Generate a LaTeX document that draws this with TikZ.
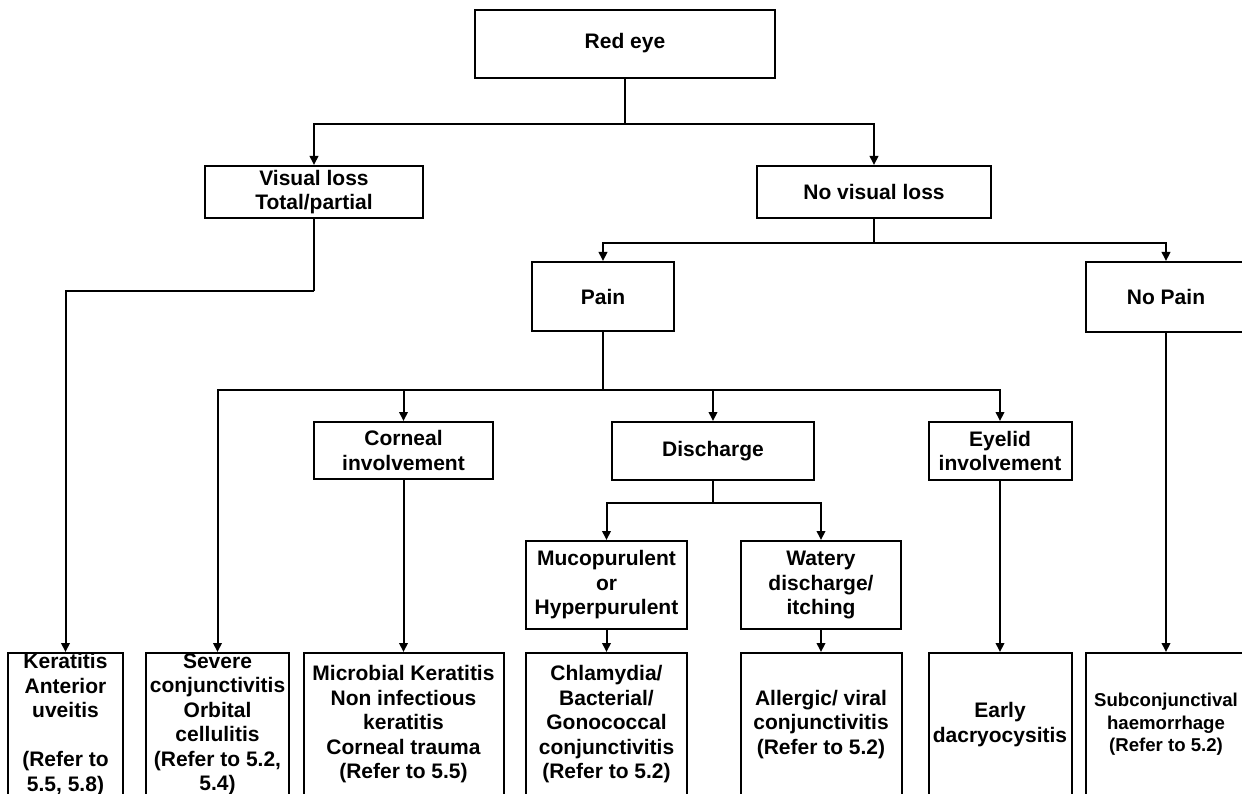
\documentclass[tikz,border=0pt]{standalone}
\usepackage{fontspec}
\setmainfont{Liberation Sans}
\usetikzlibrary{arrows.meta}

\tikzset{
  box/.style={draw, line width=2pt, rectangle, align=center, inner sep=0pt,
    font=\bfseries\fontsize{21}{24.5}\selectfont},
  smallbox/.style={box, font=\bfseries\fontsize{18.6}{22.5}\selectfont},
  link/.style={line width=2pt},
  arr/.style={link, -{Triangle[length=9pt,width=8.5pt]}},
}

\begin{document}
\begin{tikzpicture}[x=1pt, y=-1pt]
\useasboundingbox[fill=white] (0,0) rectangle (1242,794);

% top levels
\node[box, minimum width=300, minimum height=68] (red) at (625,44) {\raisebox{7pt}{Red eye}};
\node[box, minimum width=218, minimum height=52] (vis) at (314,192) {Visual loss\\Total/partial};
\node[box, minimum width=234, minimum height=52] (novis) at (874,192) {No visual loss};
\node[box, minimum width=142, minimum height=69] (pain) at (603,296.5) {Pain};
\node[box, minimum width=160, minimum height=70] (nopain) at (1166,297) {No Pain};

% third level
\node[box, minimum width=179, minimum height=57] (corn) at (403.5,450.5) {Corneal\\involvement};
\node[box, minimum width=202, minimum height=58] (dis) at (713,451) {Discharge};
\node[box, minimum width=143, minimum height=58] (eye) at (1000,451) {Eyelid\\involvement};
\node[box, minimum width=161, minimum height=88] (muc) at (606.5,585) {Mucopurulent\\or\\Hyperpurulent};
\node[box, minimum width=160, minimum height=88] (wat) at (821,585) {Watery\\discharge/\\itching};

% diagnoses
\node[box, minimum width=115, minimum height=143] (ker) at (65.5,724.5)
  {Keratitis\\Anterior\\uveitis\\[24.5pt](Refer to\\5.5, 5.8)};
\node[box, minimum width=143, minimum height=143] (sev) at (217.5,724.5)
  {Severe\\conjunctivitis\\Orbital\\cellulitis\\(Refer to 5.2,\\5.4)};
\node[box, minimum width=200, minimum height=143] (mic) at (403.5,724.5)
  {Microbial Keratitis\\Non infectious\\keratitis\\Corneal trauma\\(Refer to 5.5)};
\node[box, minimum width=161, minimum height=143] (chl) at (606.5,724.5)
  {Chlamydia/\\Bacterial/\\Gonococcal\\conjunctivitis\\(Refer to 5.2)};
\node[box, minimum width=161, minimum height=143] (all) at (821,724.5)
  {Allergic/ viral\\conjunctivitis\\(Refer to 5.2)};
\node[box, minimum width=143, minimum height=143] (early) at (1000,724.5)
  {Early\\dacryocysitis};
\node[smallbox, minimum width=160, minimum height=143] (sub) at (1166,724.5)
  {Subconjunctival\\haemorrhage\\(Refer to 5.2)};

% branch points
\coordinate (j1) at (625,124);
\coordinate (j2) at (874,243);
\coordinate (j3) at (314,291);
\coordinate (j4) at (603,390);
\coordinate (j5) at (713,503);

% connectors
\draw[link] (red.south) -- (j1);
\draw[arr] (j1) -| (vis.north);
\draw[arr] (j1) -| (novis.north);

\draw[link] (novis.south) -- (j2);
\draw[arr] (j2) -| (pain.north);
\draw[arr] (j2) -| (nopain.north);

\draw[link] (vis.south) -- (j3);
\draw[arr] (j3) -| (ker.north);

\draw[link] (pain.south) -- (j4);
\draw[arr] (j4) -| (sev.north);
\draw[arr] (j4) -| (corn.north);
\draw[arr] (j4) -| (dis.north);
\draw[arr] (j4) -| (eye.north);

\draw[link] (dis.south) -- (j5);
\draw[arr] (j5) -| (muc.north);
\draw[arr] (j5) -| (wat.north);

\draw[arr] (corn.south) -- (mic.north);
\draw[arr] (muc.south) -- (chl.north);
\draw[arr] (wat.south) -- (all.north);
\draw[arr] (eye.south) -- (early.north);
\draw[arr] (nopain.south) -- (sub.north);
\end{tikzpicture}
\end{document}
